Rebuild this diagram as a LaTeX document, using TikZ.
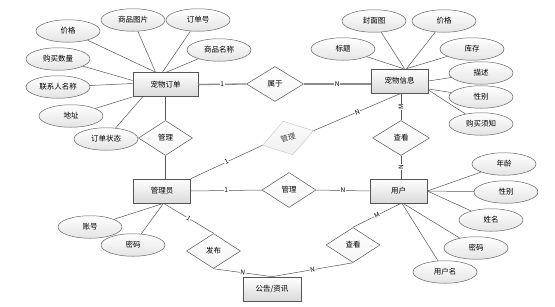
\documentclass[tikz,border=0pt]{standalone}
\usepackage{fontspec}
\setmainfont{Noto Sans CJK SC}
\usetikzlibrary{shapes.geometric}
\definecolor{bd}{HTML}{555555}
\definecolor{ebd}{HTML}{666666}
\definecolor{efill}{HTML}{E4E4E4}
\definecolor{bfill}{HTML}{DADADA}
\definecolor{ln}{HTML}{555555}
\definecolor{thkc}{HTML}{8A8A8A}
\begin{document}
\begin{tikzpicture}[x=1pt,y=-1pt,font=\fontsize{7.5}{8.5}\selectfont,
  ent/.style={rectangle,draw=bd,line width=0.7pt,top color=white,bottom color=bfill,minimum width=57pt,minimum height=24pt,inner sep=0pt},
  attr/.style={ellipse,draw=ebd,line width=0.5pt,top color=white,bottom color=efill,minimum width=64pt,minimum height=22.5pt,inner sep=0pt},
  rel/.style={diamond,draw=bd,line width=0.5pt,top color=white,bottom color=gray!8,minimum width=54pt,minimum height=35pt,inner sep=0pt},
  relgray/.style={diamond,draw=gray!40,line width=0.5pt,top color=gray!3,bottom color=gray!12,minimum width=53pt,minimum height=35pt,inner sep=0pt,text=black!75},
  conn/.style={draw=ln,line width=0.5pt},
  thk/.style={draw=thkc,line width=1.3pt},
  lbl/.style={fill=white,inner sep=0.5pt,font=\fontsize{6.5}{7}\selectfont,text=black}]
\useasboundingbox (0,0) rectangle (555,306);
% entities
\node[ent,minimum width=65pt] (order) at (165.5,84.5) {宠物订单};
\node[ent] (pet) at (399.5,81) {宠物信息};
\node[ent] (admin) at (162,191) {管理员};
\node[ent] (user) at (398.5,191) {用户};
\node[ent,minimum width=58pt] (notice) at (272,289) {公告/资讯};
% relations
\node[rel,minimum width=57pt] (belong) at (275,84) {属于};
\node[rel] (mgr1) at (165.5,138) {管理};
\node[relgray,rotate=16] (mgr2) at (288,138) {管理};
\node[rel] (mgr3) at (289,190) {管理};
\node[rel,minimum width=57pt] (view1) at (401,138) {查看};
\node[rel] (pub) at (213.5,251) {发布};
\node[rel] (view2) at (353,245) {查看};
% order attributes
\node[attr] (o1) at (68,31) {价格};
\node[attr] (o2) at (133,20) {商品图片};
\node[attr] (o3) at (198,20) {订单号};
\node[attr] (o4) at (219,50) {商品名称};
\node[attr] (o5) at (58,59) {购买数量};
\node[attr] (o6) at (58,87) {联系人名称};
\node[attr] (o7) at (71,116) {地址};
\node[attr] (o8) at (106,139) {订单状态};
% pet attributes
\node[attr] (p1) at (374,21) {封面图};
\node[attr] (p2) at (444,21) {价格};
\node[attr] (p3) at (343,49) {标题};
\node[attr] (p4) at (472,49) {库存};
\node[attr] (p5) at (481,73) {描述};
\node[attr] (p6) at (481,97) {性别};
\node[attr] (p7) at (481,124) {购买须知};
% admin attributes
\node[attr] (a1) at (90,227) {账号};
\node[attr] (a2) at (133,245) {密码};
% user attributes
\node[attr] (u1) at (504,164) {年龄};
\node[attr] (u2) at (506,192) {性别};
\node[attr] (u3) at (491,220) {姓名};
\node[attr] (u4) at (476,248) {密码};
\node[attr] (u5) at (445,272) {用户名};
% attribute lines
\draw[conn] (o1) -- ([xshift=-10pt]order.north);
\draw[conn] (o2) -- ([xshift=-10pt]order.north);
\draw[conn] (o3) -- ([xshift=-3pt]order.north);
\draw[conn] (o4) -- ([xshift=1pt]order.north);
\draw[conn] (o5) -- ([yshift=4pt]order.west);
\draw[conn] (o6) -- ([yshift=1pt]order.west);
\draw[conn] (o7) -- (order.south west);
\draw[conn] (o8) -- ([xshift=10pt]order.south west);
\draw[conn] (p1) -- ([xshift=5pt]pet.north);
\draw[conn] (p2) -- ([xshift=7pt]pet.north);
\draw[conn] (p3) -- ([xshift=4pt]pet.north);
\draw[conn] (p4) -- ([xshift=7pt]pet.north);
\draw[conn] (p5) -- (pet.east);
\draw[conn] (p6) -- ([yshift=-8pt]pet.east);
\draw[conn] (p7) -- ([yshift=-9pt]pet.east);
\draw[conn] (a1) -- ([xshift=1.5pt]admin.south);
\draw[conn] (a2) -- ([xshift=1.5pt]admin.south);
\draw[conn] (u1) -- (user.east);
\draw[conn] (u2) -- (user.east);
\draw[conn] (u3) -- (user.east);
\draw[conn] (u4) -- ([xshift=4.5pt]user.south);
\draw[conn] (u5) -- ([xshift=3.5pt]user.south);
% relation lines
\draw[thk] (order.east) -- node[lbl]{1} (belong.west);
\draw[thk] (belong.east) -- node[lbl]{N} ([yshift=-3pt]pet.west);
\draw[conn] (order.south) -- (mgr1.north);
\draw[conn] (mgr1.south) -- (mgr1.south |- admin.north);
\draw[conn] (admin.north east) -- node[lbl,sloped]{1} (mgr2.west);
\draw[conn] (mgr2.east) -- node[lbl,sloped]{N} ([xshift=1.5pt]pet.south);
\draw[conn] (admin.east) -- node[lbl]{1} (mgr3.west);
\draw[conn] (mgr3.east) -- node[lbl]{N} (user.west);
\draw[conn] (pet.south -| view1.north) -- node[lbl,rotate=90]{M} (view1.north);
\draw[conn] (view1.south) -- node[lbl,rotate=90]{N} (view1.south |- user.north);
\draw[conn] ([xshift=2.5pt]user.south) -- node[lbl,sloped]{M} (view2.north);
\draw[conn] (view2.south) -- node[lbl,sloped]{N} (notice.north);
\draw[conn] ([xshift=1.5pt]admin.south) -- node[lbl,sloped]{1} (pub.north);
\draw[conn] (pub.south) -- node[lbl,sloped]{N} (notice.north);
\end{tikzpicture}
\end{document}
